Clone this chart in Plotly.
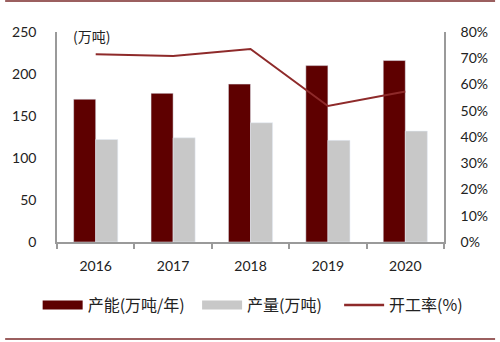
import plotly.graph_objects as go

years = ["2016", "2017", "2018", "2019", "2020"]
capacity = [170, 177, 188, 210, 216]
output = [122, 124, 142, 121, 132]
utilization = [71.5, 70.9, 73.5, 51.8, 57.3]

dark = "#5E0000"
grey = "#C8C8C8"
linec = "#8E2A2A"
axisc = "#9A9A9A"
font_num = "Lato, Liberation Sans, sans-serif"
font_cn = "Noto Sans CJK SC, sans-serif"

fig = go.Figure()
fig.add_trace(go.Bar(x=years, y=capacity, name="产能(万吨/年)", marker_color=dark,
                     showlegend=False))
fig.add_trace(go.Bar(x=years, y=output, name="产量(万吨)", marker_color=grey,
                     showlegend=False))
fig.add_trace(go.Scatter(x=years, y=utilization, name="开工率(%)", yaxis="y2",
                         mode="lines", line=dict(color=linec, width=2), showlegend=False))
# legend proxies (one legend each, to control spacing)
fig.add_trace(go.Scatter(x=[None], y=[None], mode="lines", name="产能(万吨/年)",
                         line=dict(color=dark, width=9), legend="legend"))
fig.add_trace(go.Scatter(x=[None], y=[None], mode="lines", name="产量(万吨)",
                         line=dict(color=grey, width=9), legend="legend2"))
fig.add_trace(go.Scatter(x=[None], y=[None], mode="lines", name="开工率(%)",
                         line=dict(color=linec, width=2.5), legend="legend3"))

leg_common = dict(orientation="h", xanchor="left", y=-0.30, yanchor="middle",
                  font=dict(family=font_cn, size=16, color="#222"), itemwidth=40,
                  bgcolor="rgba(0,0,0,0)")

fig.update_layout(
    width=500, height=342,
    margin=dict(l=53, r=52, t=32, b=100),
    paper_bgcolor="white", plot_bgcolor="white",
    barmode="group", bargap=0.43, bargroupgap=0,
    font=dict(family=font_num, size=14, color="#222"),
    xaxis=dict(showline=True, linecolor=axisc, linewidth=1.5, ticks="outside",
               tickson="boundaries", ticklen=5, tickcolor=axisc, tickwidth=1.5,
               showgrid=False, ticklabelstandoff=10,
               tickfont=dict(family=font_num, size=14, color="#222")),
    yaxis=dict(range=[0, 250], dtick=50, showline=True, linecolor=axisc, linewidth=1.5,
               showgrid=False, zeroline=False, ticks="", ticklabelstandoff=16,
               tickfont=dict(family=font_num, size=14, color="#222")),
    yaxis2=dict(range=[0, 80], dtick=10, overlaying="y", side="right", showline=True,
                linecolor=axisc, linewidth=1.5, showgrid=False, zeroline=False,
                ticksuffix="%", ticks="", ticklabelstandoff=12,
                tickfont=dict(family=font_num, size=14, color="#222")),
    legend=dict(x=-0.05, **leg_common),
    legend2=dict(x=0.362, **leg_common),
    legend3=dict(x=0.729, **leg_common),
    annotations=[dict(text="(万吨)", xref="paper", yref="paper", x=0.035, y=1.04,
                      xanchor="left", yanchor="top", showarrow=False,
                      font=dict(family=font_cn, size=14, color="#222"))],
    shapes=[
        dict(type="line", xref="paper", yref="paper", x0=-0.134, x1=1.132,
             y0=1.148, y1=1.148, line=dict(color="#7A2A2A", width=1.5)),
        dict(type="line", xref="paper", yref="paper", x0=-0.134, x1=1.132,
             y0=-0.462, y1=-0.462, line=dict(color="#7A2A2A", width=1.5)),
    ],
)

fig.write_html("out.html")
